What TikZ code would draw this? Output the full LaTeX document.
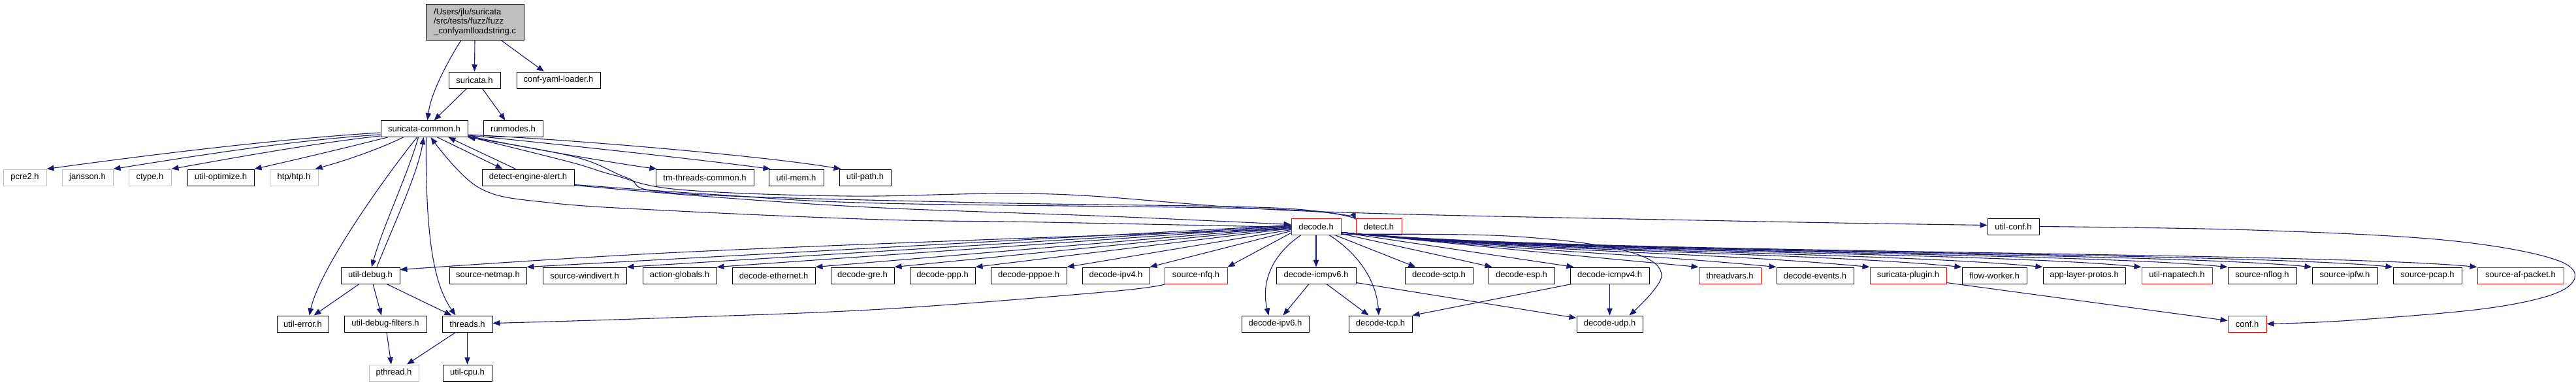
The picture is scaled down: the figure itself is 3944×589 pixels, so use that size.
\documentclass[tikz,border=0pt]{standalone}
\usepackage{fontspec}
\setmainfont{Liberation Sans}
\usetikzlibrary{arrows.meta,calc}
\definecolor{edgecol}{HTML}{191970}
\definecolor{graybd}{HTML}{BFBFBF}
\begin{document}
\begin{tikzpicture}[x=1pt,y=-1pt,
  box/.style={draw=black, line width=1pt, rectangle, inner sep=0pt, minimum height=25pt, font=\fontsize{13}{15}\selectfont},
  redbox/.style={box, draw=red},
  extbox/.style={box, draw=graybd},
  edge/.style={draw=edgecol, line width=1.1pt, -{Triangle[length=11pt,width=8.5pt]}}]
\useasboundingbox (0,0) rectangle (3944,589);
% row 0
\node[box, fill=graybd, minimum width=150pt, minimum height=55pt, align=left, font=\fontsize{13}{14.6}\selectfont] (main) at (727,33.5) {/Users/jlu/suricata\\/src/tests/fuzz/fuzz\\\_confyamlloadstring.c};
% row 1
\node[box, minimum width=79pt] (suricata) at (726.5,122.5) {suricata.h};
\node[box, minimum width=128pt] (confyaml) at (855,122.5) {conf-yaml-loader.h};
% row 2
\node[box, minimum width=133pt] (common) at (649.5,197) {suricata-common.h};
\node[box, minimum width=91pt] (runmodes) at (785.5,197) {runmodes.h};
% row 3
\node[extbox, minimum width=66pt] (pcre2) at (38,271.5) {pcre2.h};
\node[extbox, minimum width=78pt] (jansson) at (134,271.5) {jansson.h};
\node[extbox, minimum width=65pt] (ctype) at (229.5,271.5) {ctype.h};
\node[box, minimum width=102pt] (utilopt) at (338,271.5) {util-optimize.h};
\node[extbox, minimum width=74pt] (htp) at (450,271.5) {htp/htp.h};
\node[box, minimum width=141pt] (dea) at (808.5,271.5) {detect-engine-alert.h};
\node[box, minimum width=150pt] (tmthreads) at (1079,271.5) {tm-threads-common.h};
\node[box, minimum width=84pt] (utilmem) at (1219,271.5) {util-mem.h};
\node[box, minimum width=79pt] (utilpath) at (1324.5,271.5) {util-path.h};
% row 4
\node[redbox, minimum width=76pt] (decode) at (2015,346.5) {decode.h};
\node[redbox, minimum width=70pt] (detect) at (2111,346.5) {detect.h};
\node[box, minimum width=79pt] (utilconf) at (3082.5,346.5) {util-conf.h};
% row 5
\node[box, minimum width=90pt] (utildebug) at (567,421.5) {util-debug.h};
\node[box, minimum width=118pt] (srcnetmap) at (747,421.5) {source-netmap.h};
\node[box, minimum width=128pt] (srcwindivert) at (895,421.5) {source-windivert.h};
\node[box, minimum width=113pt] (actionglobals) at (1040.5,421.5) {action-globals.h};
\node[box, minimum width=127pt] (decodeeth) at (1184.5,421.5) {decode-ethernet.h};
\node[box, minimum width=97pt] (decodegre) at (1320.5,421.5) {decode-gre.h};
\node[box, minimum width=100pt] (decodeppp) at (1443,421.5) {decode-ppp.h};
\node[box, minimum width=116pt] (decodepppoe) at (1575,421.5) {decode-pppoe.h};
\node[box, minimum width=103pt] (decodeipv4) at (1708.5,421.5) {decode-ipv4.h};
\node[redbox, minimum width=96pt] (srcnfq) at (1831,421.5) {source-nfq.h};
\node[box, minimum width=122pt] (decodeicmpv6) at (2015,421.5) {decode-icmpv6.h};
\node[box, minimum width=104pt] (decodesctp) at (2203,421.5) {decode-sctp.h};
\node[box, minimum width=101pt] (decodeesp) at (2329.5,421.5) {decode-esp.h};
\node[box, minimum width=121pt] (decodeicmpv4) at (2464.5,421.5) {decode-icmpv4.h};
\node[redbox, minimum width=95pt] (threadvars) at (2648.5,421.5) {threadvars.h};
\node[box, minimum width=118pt] (decodeevents) at (2779,421.5) {decode-events.h};
\node[redbox, minimum width=117pt] (suricataplugin) at (2921.5,421.5) {suricata-plugin.h};
\node[box, minimum width=99pt] (flowworker) at (3053.5,421.5) {flow-worker.h};
\node[box, minimum width=126pt] (applayerprotos) at (3191,421.5) {app-layer-protos.h};
\node[redbox, minimum width=108pt] (utilnapatech) at (3333,421.5) {util-napatech.h};
\node[box, minimum width=105pt] (srcnflog) at (3463.5,421.5) {source-nflog.h};
\node[box, minimum width=100pt] (srcipfw) at (3590,421.5) {source-ipfw.h};
\node[box, minimum width=105pt] (srcpcap) at (3716.5,421.5) {source-pcap.h};
\node[redbox, minimum width=132pt] (srcafpacket) at (3859,421.5) {source-af-packet.h};
% row 6
\node[box, minimum width=79pt] (utilerror) at (463.5,495.5) {util-error.h};
\node[box, minimum width=126pt] (utildebugfilters) at (590,495.5) {util-debug-filters.h};
\node[box, minimum width=77pt] (threads) at (715.5,495.5) {threads.h};
\node[box, minimum width=103pt] (decodeipv6) at (1952.5,495.5) {decode-ipv6.h};
\node[box, minimum width=97pt] (decodetcp) at (2113.5,495.5) {decode-tcp.h};
\node[box, minimum width=101pt] (decodeudp) at (2464.5,495.5) {decode-udp.h};
\node[redbox, minimum width=59pt] (conf) at (3440.5,495.5) {conf.h};
% row 7
\node[extbox, minimum width=76pt] (pthread) at (603,570.5) {pthread.h};
\node[box, minimum width=75pt] (utilcpu) at (715.5,570.5) {util-cpu.h};

% ---- edges ----
\draw[edge] ($(main.south)+(-21,0)$) .. controls (688,90) and (660,140) .. ($(common.north)+(5,0)$);
\draw[edge] (main.south) -- (suricata.north);
\draw[edge] ($(main.south)+(40,0)$) -- ($(confyaml.north)+(-22,0)$);
\draw[edge] ($(suricata.south)+(-12,0)$) -- ($(common.north)+(15,0)$);
\draw[edge] ($(suricata.south)+(12,0)$) -- ($(runmodes.north)+(-12,0)$);
% common -> left externals
\draw[edge] ($(common.south west)+(0,-7)$) .. controls (430,212) and (220,238) .. (pcre2.north east);
\draw[edge] ($(common.south west)+(0,-4)$) .. controls (450,214) and (290,240) .. (jansson.north east);
\draw[edge] ($(common.south west)+(0,-2)$) .. controls (480,219) and (350,243) .. (ctype.north east);
\draw[edge] ($(common.south west)+(11,0)$) .. controls (530,226) and (450,245) .. (utilopt.north east);
\draw[edge] ($(common.south west)+(35,0)$) .. controls (585,226) and (535,244) .. ($(htp.north east)+(-5,0)$);
% common down
\draw[edge] ($(common.south)+(-11,0)$) .. controls (590,270) and (490,410) .. ($(utilerror.north)+(10,0)$);
\draw[edge] ($(common.south)+(-9,0)$) .. controls (625,265) and (585,350) .. ($(utildebug.north)+(2,0)$);
\draw[edge] ($(utildebug.north)+(10,0)$) .. controls (600,350) and (640,265) .. ($(common.south)+(-1,0)$);
\draw[edge] ($(common.south)+(3,0)$) .. controls (651,380) and (668,440) .. ($(threads.north)+(-18,0)$);
% common right
\draw[edge] ($(common.south)+(20,0)$) -- ($(dea.north west)+(32,0)$);
\draw[edge] ($(dea.north west)+(52,0)$) -- ($(common.south)+(37,0)$);
\draw[edge] ($(common.south east)+(0,-2)$) .. controls (800,225) and (930,248) .. ($(tmthreads.north west)+(2,0)$);
\draw[edge] ($(common.south east)+(0,-3)$) .. controls (850,220) and (1080,245) .. ($(utilmem.north west)+(3,0)$);
\draw[edge] ($(common.south east)+(0,-4)$) .. controls (900,215) and (1180,240) .. ($(utilpath.north west)+(3,0)$);
\draw[edge] plot[smooth, tension=0.6] coordinates {($(common.south east)+(0,-1)$) (873,248) (940,268) (1040,290) (1300,300) (1612,297) (2000,323) (2650,338) ($(utilconf.west)+(0,-2)$)};
\draw[edge] plot[smooth, tension=0.6] coordinates {($(detect.north west)+(0,1)$) (1950,318) (1500,310) (1040,296) (960,272) (880,240) (common.south east)};
\draw[edge] plot[smooth, tension=0.6] coordinates {($(dea.south east)+(0,-2)$) (1100,298) (1350,311) (1950,320) ($(detect.north west)+(0,3)$)};
\draw[edge] plot[smooth, tension=0.6] coordinates {($(dea.south east)+(0,-1)$) (1100,302) (1350,318) (1700,331) ($(decode.west)+(0,-3)$)};
\draw[edge] plot[smooth, tension=0.6] coordinates {($(decode.west)+(0,1)$) (1600,340) (1350,336) (1040,323) (840,310) (733,287) ($(common.south)+(10,0)$)};
% decode -> util-debug
\draw[edge] plot[smooth, tension=0.6] coordinates {($(decode.west)+(0,4)$) (1500,367) (1000,388) ($(utildebug.north east)+(0,4)$)};
% decode -> left fan
\foreach \t/\k in {srcnetmap/-2, srcwindivert/-1, actionglobals/0, decodeeth/1, decodegre/2, decodeppp/3, decodepppoe/5, decodeipv4/7}
  \draw[edge] ($(decode.west)+(0,\k)$) -- (\t.north east);
\draw[edge] ($(decode.south west)+(0,-3)$) -- (srcnfq.north east);
% decode -> below
\draw[edge] (decode.south) -- (decodeicmpv6.north);
\draw[edge] ($(decode.south)+(-23,0)$) .. controls (1940,395) and (1932,440) .. ($(decodeipv6.north)+(-10,0)$);
\draw[edge] ($(decode.south)+(20,0)$) .. controls (2090,395) and (2108,440) .. ($(decodetcp.north)+(-2.5,0)$);
\draw[edge] ($(decode.south east)+(-10,0)$) -- ($(decodesctp.north west)+(17,0)$);
\draw[edge] ($(decode.south east)+(0,-2)$) -- ($(decodeesp.north west)+(6,0)$);
\draw[edge] ($(decode.south east)+(0,-4)$) -- ($(decodeicmpv4.north west)+(6,0)$);
\draw[edge] plot[smooth, tension=0.6] coordinates {($(decode.south east)+(0,-1)$) (2307,361) (2486,383) (2544,421) ($(decodeudp.north)+(30,0)$)};
\draw[edge] ($(decodeicmpv6.south)+(-11,0)$) -- ($(decodeipv6.north)+(12,0)$);
\draw[edge] ($(decodeicmpv6.south)+(16,0)$) -- ($(decodetcp.north)+(-18,0)$);
\draw[edge] ($(decodeicmpv6.south east)+(0,-2)$) -- ($(decodeudp.north west)+(0,4)$);
\draw[edge] ($(decodeicmpv4.south west)+(3,0)$) -- (decodetcp.north east);
\draw[edge] (decodeicmpv4.south) -- (decodeudp.north);
% decode -> right fan
\foreach \t in {threadvars, decodeevents, suricataplugin, flowworker, applayerprotos, utilnapatech, srcnflog, srcipfw, srcpcap, srcafpacket}
  \draw[edge] ($(decode.south east)+(0,-4)$) .. controls (2380,388) and ($(\t.north west)+(-260,-24)$) .. (\t.north west);
% conf
\draw[edge] plot[smooth, tension=0.6] coordinates {(utilconf.east) (3450,352) (3750,368) (3920,400) (3930,440) (3820,470) (3600,490) (conf.east)};
\draw[edge] ($(suricataplugin.south east)+(0,-2)$) -- ($(conf.west)+(0,-5)$);
% nfq -> threads
\draw[edge] plot[smooth, tension=0.6] coordinates {($(srcnfq.south west)+(2,0)$) (1700,446) (1350,473) (1000,487) ($(threads.east)+(0,-1)$)};
% util-debug group
\draw[edge] ($(utildebug.south)+(-17,0)$) -- ($(utilerror.north)+(17,0)$);
\draw[edge] ($(utildebug.south)+(4,0)$) -- ($(utildebugfilters.north)+(-6,0)$);
\draw[edge] ($(utildebug.south)+(25,0)$) -- ($(threads.north)+(-24,0)$);
\draw[edge] ($(utildebugfilters.south)+(2,0)$) -- ($(pthread.north)+(-4,0)$);
\draw[edge] ($(threads.south)+(-18,0)$) -- ($(pthread.north)+(20,0)$);
\draw[edge] (threads.south) -- (utilcpu.north);
\end{tikzpicture}
\end{document}
